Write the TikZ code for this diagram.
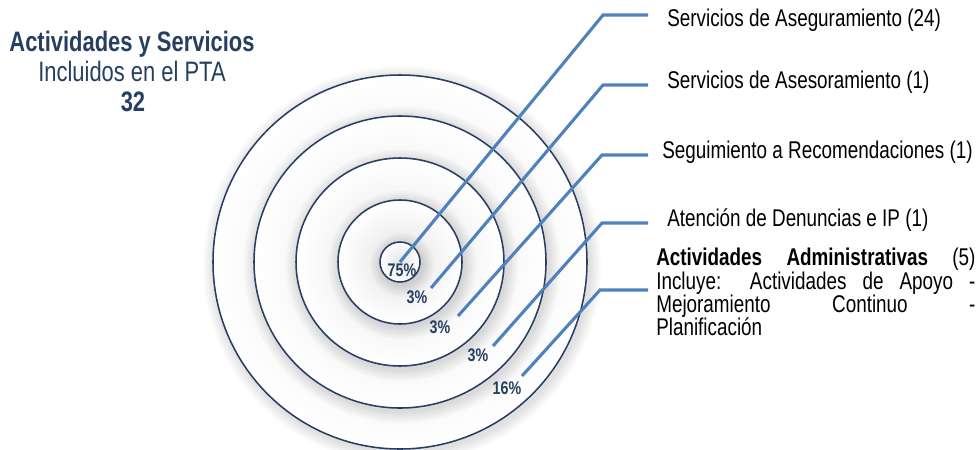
\documentclass[tikz,border=0pt]{standalone}
\usepackage{fontspec}
\setmainfont{Liberation Sans}[FakeStretch=0.92]
\newfontfamily\narrowfont{Liberation Sans}[FakeStretch=0.78]
\usepackage{tikz}
\usetikzlibrary{calc}
\definecolor{navy}{RGB}{36,63,96}
\definecolor{ringline}{RGB}{40,62,100}
\definecolor{linkblue}{RGB}{79,129,189}

\begin{document}
\begin{tikzpicture}[x=0.025cm,y=-0.025cm,
  ring/.style={draw=ringline,line width=1.1pt,inner color=gray!22,outer color=white},
  link/.style={linkblue,line width=2.2pt},
  pct/.style={text=navy,inner sep=0pt,font=\narrowfont\bfseries\fontsize{13}{13}\selectfont},
  lbl/.style={anchor=base west,inner xsep=13.5pt,inner ysep=0pt,font=\narrowfont\fontsize{17.2}{17.2}\selectfont},
  ttl/.style={anchor=base,text=navy,inner sep=0pt,font=\narrowfont\fontsize{20}{20}\selectfont}]
\useasboundingbox (0,0) rectangle (977,449);
% rings
\coordinate (c) at (400,262);
\foreach \r in {187,146,104,62,20}{
  \foreach \d in {2,4,...,12} \fill[black,opacity=0.02] ($(c)+(2,3)$) circle [radius=\r+\d];
  \shade[ring] (c) circle [radius=\r];
}
% title
\node[ttl,font=\narrowfont\bfseries\fontsize{20}{20}\selectfont](t1)at(132,51.7){Actividades y Servicios};
\node[ttl](t2)at(132,81.7){Incluidos en el PTA};
\node[ttl,font=\narrowfont\bfseries\fontsize{20}{20}\selectfont](t3)at(133,111.7){32};
% percentages
\node[pct](p1)at(402,270){75\%};
\node[pct](p2)at(417,297){3\%};
\node[pct](p3)at(440,327){3\%};
\node[pct](p4)at(478,355){3\%};
\node[pct](p5)at(507,388){16\%};
% labels
\node[lbl](l1)at(648,26.7){Servicios de Aseguramiento (24)};
\node[lbl](l2)at(648,88.3){Servicios de Asesoramiento (1)};
\node[lbl,inner xsep=10pt](l3)at(648,158.3){Seguimiento a Recomendaciones (1)};
\node[lbl](l4)at(648,226.7){Atención de Denuncias e IP (1)};
\node[anchor=north west,inner xsep=5.7pt,inner ysep=0pt,align=left,font=\narrowfont\fontsize{17.2}{16.5}\selectfont](l5)at(648,248){%
  \makebox[227pt][s]{\textbf{Actividades Administrativas} (5)}\\
  \makebox[227pt][s]{Incluye: Actividades de Apoyo -}\\
  \makebox[227pt][s]{Mejoramiento Continuo -}\\
  Planificación};
% connectors
\coordinate (s1) at (400,262); \coordinate (b1) at (603,15);
\coordinate (s2) at (431,288); \coordinate (b2) at (603,85);
\coordinate (s3) at (458,316); \coordinate (b3) at (602,155);
\coordinate (s4) at (493,346); \coordinate (b4) at (602,223);
\coordinate (s5) at (522,376); \coordinate (b5) at (600,290);
\foreach \i in {1,...,5} \draw[link](s\i)--(b\i)--(b\i-|l\i.west);
\end{tikzpicture}
\end{document}
